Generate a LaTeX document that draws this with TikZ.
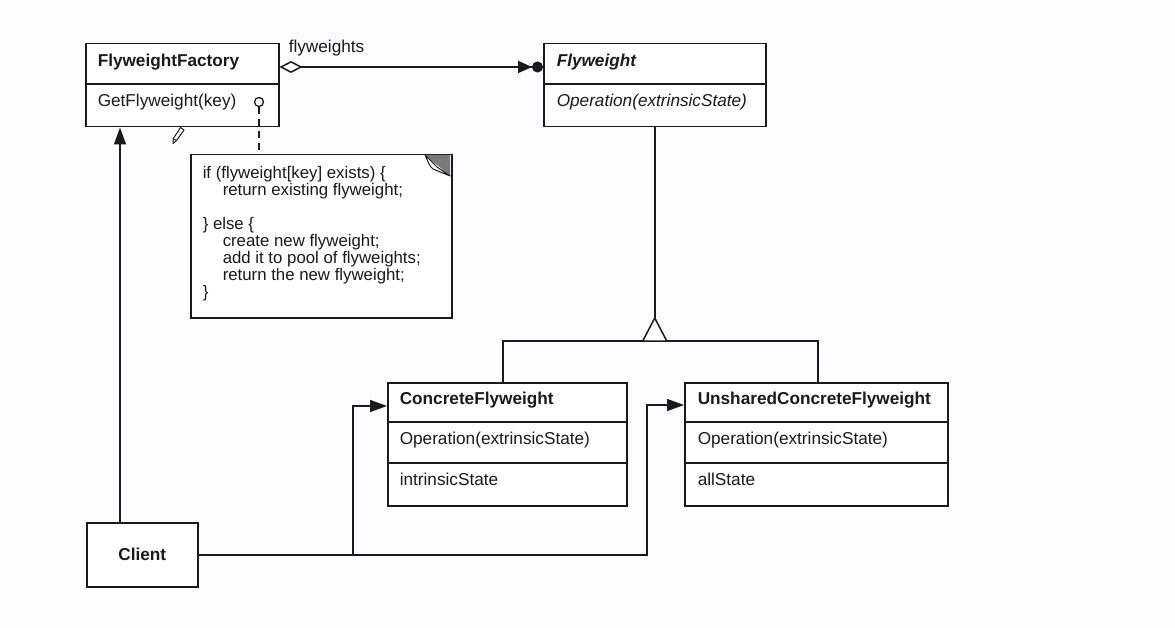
\documentclass[tikz,border=0pt]{standalone}
\usepackage{fontspec}
\setmainfont{Liberation Sans}
\usetikzlibrary{arrows.meta,calc}
\definecolor{ink}{HTML}{1A1A1A}
\definecolor{paper}{HTML}{FCFCFE}
\definecolor{fold}{HTML}{7A7A7A}
\begin{document}
\begin{tikzpicture}[x=1pt,y=-1pt,line width=1.5pt,draw=ink,
  classbox/.style={draw=ink,line width=1.5pt,anchor=north west,inner sep=0pt,fill=white},
  lbl/.style={anchor=mid west,inner sep=0pt,text=ink,font=\fontsize{17.2}{20}\selectfont},
  conn/.style={draw=ink,line width=1.5pt},
  solid tip/.style={-{Triangle[length=17pt,width=12pt]}},
]
% canvas
\fill[paper] (0,0) rectangle (1175,628);
\useasboundingbox (0,0) rectangle (1175,628);

% class boxes
\node[classbox,minimum width=193pt,minimum height=83pt] (ff) at (85,43) {};
\node[classbox,minimum width=222pt,minimum height=83pt] (fw) at (543,43) {};
\node[classbox,minimum width=239pt,minimum height=123pt] (cf) at (387,382) {};
\node[classbox,minimum width=263pt,minimum height=123pt] (ucf) at (684,382) {};
\node[classbox,minimum width=111pt,minimum height=64pt] (client) at (86,522) {};

% compartment separators
\draw (ff.west |- 0,84) -- (ff.east |- 0,84);
\draw (fw.west |- 0,84) -- (fw.east |- 0,84);
\draw (cf.west |- 0,422) -- (cf.east |- 0,422);
\draw (cf.west |- 0,463) -- (cf.east |- 0,463);
\draw (ucf.west |- 0,422) -- (ucf.east |- 0,422);
\draw (ucf.west |- 0,463) -- (ucf.east |- 0,463);

% class texts
\node[lbl] (ffname) at (97,64) {\bfseries FlyweightFactory};
\node[lbl] (ffop) at (97,104) {GetFlyweight(key)};
\node[lbl] (fwname) at (556,64) {\bfseries\itshape Flyweight};
\node[lbl] (fwop) at (556,104) {\itshape Operation(extrinsicState)};
\node[lbl] (cfname) at (399,402) {\bfseries ConcreteFlyweight};
\node[lbl] (cfop) at (399,442) {Operation(extrinsicState)};
\node[lbl] (cfattr) at (399,483) {intrinsicState};
\node[lbl] (ucfname) at (697,402) {\bfseries UnsharedConcreteFlyweight};
\node[lbl] (ucfop) at (697,442) {Operation(extrinsicState)};
\node[lbl] (ucfattr) at (697,483) {allState};
\node[inner sep=0pt,text=ink,font=\fontsize{17.2}{20}\selectfont\bfseries] (clientname) at (client.center) {Client};

% implementation note with folded corner
\node[classbox,minimum width=261pt,minimum height=163pt] (note) at (190,154) {};
\fill[fold] (425,154.8) -- (450.2,154.8) -- (450.2,176) -- cycle;
\draw[fill=white,line width=1pt,line join=round] (425,154.8) .. controls (428,162) and (430,167) .. (433,169)
  -- (450.2,176) -- (437,167) -- cycle;
\node[anchor=north west,inner sep=0pt,align=left,text=ink,
  font=\fontsize{16.8}{17}\selectfont] (notetext) at (202,166) {%
if (flyweight[key] exists) \{\\
\hspace*{20pt}return existing flyweight;\\[17pt]
\} else \{\\
\hspace*{20pt}create new flyweight;\\
\hspace*{20pt}add it to pool of flyweights;\\
\hspace*{20pt}return the new flyweight;\\
\}};

% note anchor on the operation
\node[circle,draw=ink,line width=1.3pt,minimum size=9pt,inner sep=0pt] (port) at (259,102) {};
\draw[line width=1.3pt,dash pattern=on 7pt off 5pt] (port.south) -- (note.north -| port.south);

% pencil mark
\draw[line width=1pt,fill=white,line join=round]
  (180.5,127.5) -- (184,130) -- (176.5,140.5) -- (173,143.5) -- (173.2,138.8) -- cycle;
\draw[line width=0.9pt] (173.2,138.8) -- (176.5,140.5);

% aggregation: factory holds flyweights
\draw[conn,{Diamond[open,fill=white,length=23pt,width=12pt]}-{Triangle[length=14pt,width=12pt] Circle[length=11pt]}]
  (ff.east |- 0,67) -- (fw.west |- 0,67);
\node[lbl] (agglbl) at (288,50) {flyweights};

% inheritance from Flyweight
\coordinate (apex) at (fw.south |- 0,318);
\draw[conn] (fw.south) -- (apex);
\draw[conn] (cf.north -| 503,0) -- (503,341) -- (818,341) -- (ucf.north -| 818,0);
\draw[conn,fill=white,line join=round] ($(apex)+(-12,23)$) -- (apex) -- ($(apex)+(12,23)$) -- cycle;

% client references
\draw[conn,solid tip] (client.north -| 120,0) -- (ff.south -| 120,0);
\draw[conn,solid tip] (client.east) -| (647,405) -- (ucf.west |- 0,405);
\draw[conn,solid tip] (353,554) |- (cf.west |- 0,406);
\end{tikzpicture}
\end{document}
